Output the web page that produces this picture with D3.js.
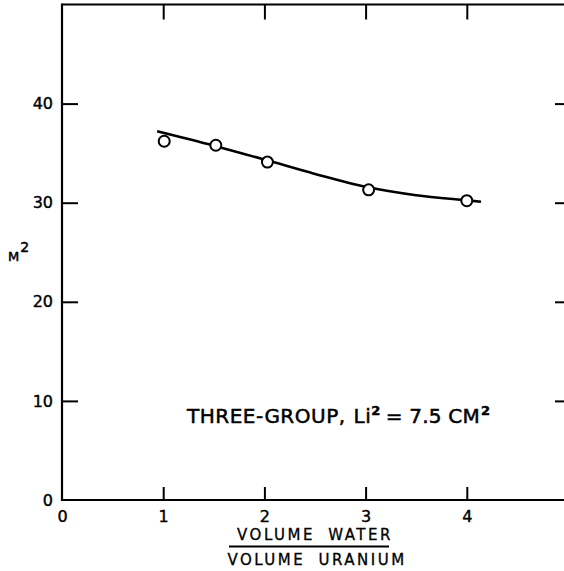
<!DOCTYPE html>
<html>
<head>
<meta charset="utf-8">
<script src="https://cdn.jsdelivr.net/npm/d3@7"></script>
<style>
html,body{margin:0;padding:0;background:#fff;}
svg{display:block;}
text{font-family:"DejaVu Sans","Liberation Sans",sans-serif;fill:#000;}
</style>
</head>
<body>
<svg id="chart" width="564" height="571"></svg>
<script>
// Data
const xTicks = [0, 1, 2, 3, 4];
const yTicks = [0, 10, 20, 30, 40];
const pointX = [1.01, 1.52, 2.03, 3.03, 4.0];
const pointY = [36.2, 35.8, 34.1, 31.3, 30.2];
const curveX = [0.94, 1.5, 2.0, 2.5, 3.0, 3.5, 4.0, 4.14];
const curveY = [37.2, 35.75, 34.35, 32.9, 31.6, 30.75, 30.25, 30.1];
const xDomain = [0, 5];
const yDomain = [0, 50];

(function () {
const svg = d3.select("#chart");
const x = d3.scaleLinear().domain(xDomain).range([62, 568]);
const y = d3.scaleLinear().domain(yDomain).range([500, 4.5]);

// frame
const frame = svg.append("g").attr("fill", "none").attr("stroke", "#000").attr("stroke-width", 2.2);
frame.append("line").attr("x1", x(0)).attr("x2", x(5)+2).attr("y1", y(0)).attr("y2", y(0));
frame.append("line").attr("x1", x(0)).attr("x2", x(5)+2).attr("y1", y(50)).attr("y2", y(50));
frame.append("line").attr("x1", x(0)).attr("x2", x(0)).attr("y1", y(50)-1).attr("y2", y(0)+1);
frame.append("line").attr("x1", x(5)).attr("x2", x(5)).attr("y1", y(50)).attr("y2", y(0));

const gBottom = svg.append("g").attr("transform", `translate(0,${y(0)})`)
  .call(d3.axisBottom(x).tickValues(xTicks).tickSize(-13).tickPadding(8).tickFormat(d3.format("d")));
const gTop = svg.append("g").attr("transform", `translate(0,${y(50)})`)
  .call(d3.axisTop(x).tickValues(xTicks.slice(1)).tickSize(-15).tickFormat(""));
const gLeft = svg.append("g").attr("transform", `translate(${x(0)},0)`)
  .call(d3.axisLeft(y).tickValues(yTicks).tickSize(-16).tickPadding(9).tickFormat(d3.format("d")));
const gRight = svg.append("g").attr("transform", `translate(${x(5)},0)`)
  .call(d3.axisRight(y).tickValues(yTicks.slice(1)).tickSize(-13).tickFormat(""));

[gBottom, gTop, gLeft, gRight].forEach(g => {
  g.select(".domain").remove();
  g.selectAll(".tick line").attr("stroke", "#000").attr("stroke-width", 2);
  g.selectAll(".tick text").attr("font-size", 16).attr("fill", "#000")
    .attr("stroke", "#000").attr("stroke-width", 0.4)
    .attr("font-family", "DejaVu Sans, sans-serif");
});
gBottom.selectAll(".tick line").filter(d => d === 0).remove();
gLeft.selectAll(".tick line").filter(d => d === 0).remove();
gBottom.selectAll(".tick text").attr("dy", "0.9em");

// fitted curve
const line = d3.line().x((d, i) => x(curveX[i])).y((d, i) => y(curveY[i])).curve(d3.curveCatmullRom);
svg.append("path").datum(curveX).attr("d", line)
  .attr("fill", "none").attr("stroke", "#000").attr("stroke-width", 2.6);

// data points
svg.append("g").selectAll("circle").data(pointX).join("circle")
  .attr("cx", (d) => x(d)).attr("cy", (d, i) => y(pointY[i])).attr("r", 5.5)
  .attr("fill", "#fff").attr("stroke", "#000").attr("stroke-width", 2);

// y label
const yl = svg.append("text").attr("x", 8).attr("y", 261).attr("font-size", 13)
  .attr("stroke", "#000").attr("stroke-width", 0.5);
yl.append("tspan").attr("font-size", 13).text("M");
yl.append("tspan").attr("font-size", 14).attr("dy", -9).attr("dx", 1).text("2");

// annotation
const ann = svg.append("text").attr("x", 187).attr("y", 423).attr("font-size", 20)
  .attr("font-family", "DejaVu Sans Condensed, DejaVu Sans, sans-serif")
  .attr("stroke", "#000").attr("stroke-width", 0.5).attr("letter-spacing", 0.5);
ann.append("tspan").text("THREE-GROUP,");
ann.append("tspan").attr("dx", 8).text("Li");
ann.append("tspan").attr("font-size", 13).attr("dy", -8).attr("font-weight", "bold").text("2");
ann.append("tspan").attr("dy", 8).attr("dx", 5).attr("letter-spacing", 0.2).text("= 7.5 CM");
ann.append("tspan").attr("font-size", 13).attr("dy", -8).attr("dx", 1).attr("font-weight", "bold").text("2");

// x label (fraction)
svg.append("text").attr("x", 315).attr("y", 540).attr("text-anchor", "middle")
  .attr("font-size", 15).attr("letter-spacing", 2.5).attr("stroke", "#000").attr("stroke-width", 0.3)
  .attr("word-spacing", 6).text("VOLUME WATER");
svg.append("line").attr("x1", 229).attr("x2", 389).attr("y1", 546.5).attr("y2", 546.5)
  .attr("stroke", "#000").attr("stroke-width", 1.8);
svg.append("text").attr("x", 317).attr("y", 565).attr("text-anchor", "middle")
  .attr("font-size", 15).attr("letter-spacing", 2.5).attr("stroke", "#000").attr("stroke-width", 0.3)
  .attr("word-spacing", 6).text("VOLUME URANIUM");
})();
</script>
</body>
</html>
